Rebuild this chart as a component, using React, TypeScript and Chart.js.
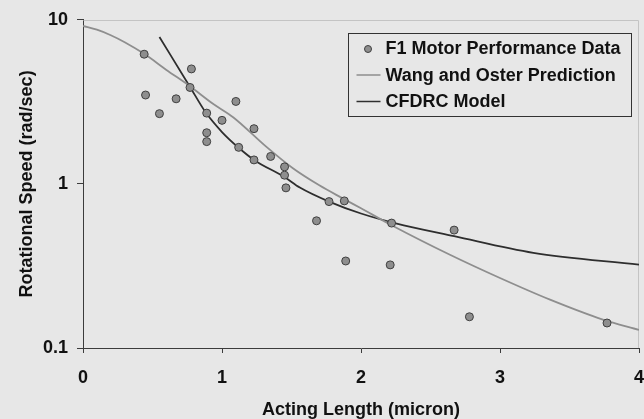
import React, { useEffect, useRef } from "react";
import { Chart, registerables } from "chart.js";

Chart.register(...registerables);

// ---- Data ----
const dataLabel = "F1 Motor Performance Data";
const wangLabel = "Wang and Oster Prediction";
const cfdLabel = "CFDRC Model";

const ptsX = [0.44, 0.45, 0.55, 0.67, 0.78, 0.77, 0.89, 0.89, 0.89, 1.0, 1.1, 1.12, 1.23, 1.23, 1.35, 1.45, 1.45, 1.46, 1.68, 1.77, 1.88, 1.89, 2.21, 2.22, 2.67, 2.78, 3.77];
const ptsY = [6.17, 3.48, 2.68, 3.3, 5.02, 3.87, 2.7, 2.05, 1.81, 2.44, 3.18, 1.67, 2.17, 1.4, 1.47, 1.27, 1.13, 0.946, 0.596, 0.78, 0.788, 0.339, 0.321, 0.577, 0.523, 0.155, 0.142];

const wangX = [0, 0.1, 0.2, 0.3, 0.44, 0.6, 0.767, 0.935, 1.08, 1.32, 1.51, 1.7, 1.87, 2.0, 2.22, 2.64, 3.0, 3.36, 3.74, 4.0];
const wangY = [9.17, 8.7, 8.05, 7.3, 6.2, 4.95, 3.95, 3.08, 2.55, 1.68, 1.245, 0.98, 0.815, 0.71, 0.56, 0.37, 0.267, 0.197, 0.149, 0.129];

const cfdX = [0.55, 0.77, 0.885, 1.0, 1.12, 1.23, 1.45, 1.56, 1.77, 2.0, 2.25, 2.67, 3.24, 4.0];
const cfdY = [7.86, 3.9, 2.71, 2.07, 1.66, 1.4, 1.1, 0.95, 0.78, 0.66, 0.575, 0.48, 0.38, 0.322];

const xTickStep = 1;
const yTickValues = [0.1, 1, 10];
const yTickLabels = ["0.1", "1", "10"];

const FONT = "'Liberation Sans', Arial, Helvetica, sans-serif";
const BG = "#e7e7e7";
const PT_FILL = "#8e8e8e";
const PT_BORDER = "#404040";
const WANG_COLOR = "#8e8e8e";
const CFD_COLOR = "#2e2e2e";
const AXIS_COLOR = "#3c3c3c";

const toPts = (xs: number[], ys: number[]) => xs.map((x, i) => ({ x, y: ys[i] }));

const bgPlugin = {
  id: "bgPlugin",
  beforeDraw(chart: any) {
    const { ctx, width, height } = chart;
    ctx.save();
    ctx.fillStyle = BG;
    ctx.fillRect(0, 0, width, height);
    ctx.restore();
  },
  beforeDatasetsDraw(chart: any) {
    const { ctx, chartArea } = chart;
    ctx.save();
    ctx.strokeStyle = "#c4c4c4";
    ctx.lineWidth = 1;
    ctx.beginPath();
    ctx.moveTo(Math.round(chartArea.left) + 0.5, Math.round(chartArea.top) + 0.5);
    ctx.lineTo(Math.round(chartArea.right) - 0.5, Math.round(chartArea.top) + 0.5);
    ctx.lineTo(Math.round(chartArea.right) - 0.5, Math.round(chartArea.bottom));
    ctx.stroke();
    ctx.restore();
  },
};

const legendPlugin = {
  id: "boxLegend",
  afterDraw(chart: any) {
    const { ctx, chartArea } = chart;
    const ds = chart.data.datasets;
    const boxR = Math.round(chartArea.right) - 7.5;
    const boxL = boxR - 283;
    const boxT = Math.round(chartArea.top) + 13.5;
    const boxB = boxT + 83;
    ctx.save();
    ctx.strokeStyle = "#333";
    ctx.lineWidth = 1;
    ctx.strokeRect(boxL, boxT, boxR - boxL, boxB - boxT);
    ctx.font = `bold 18px ${FONT}`;
    ctx.fillStyle = "#111";
    ctx.textBaseline = "middle";
    ctx.textAlign = "left";
    const textX = boxL + 37;
    const rows = [boxT + 15.5, boxT + 42.5, boxT + 69];
    ctx.beginPath();
    ctx.arc(boxL + 19.5, rows[0], 3.5, 0, Math.PI * 2);
    ctx.fillStyle = PT_FILL;
    ctx.fill();
    ctx.strokeStyle = PT_BORDER;
    ctx.lineWidth = 1;
    ctx.stroke();
    ctx.fillStyle = "#111";
    ctx.fillText(ds[0].label, textX, rows[0]);
    for (let i = 1; i < 3; i++) {
      ctx.beginPath();
      ctx.strokeStyle = ds[i].borderColor;
      ctx.lineWidth = 1.5;
      ctx.moveTo(boxL + 8, rows[i] - 1);
      ctx.lineTo(boxL + 32, rows[i] - 1);
      ctx.stroke();
      ctx.fillStyle = "#111";
      ctx.fillText(ds[i].label, textX, rows[i]);
    }
    ctx.restore();
  },
};

export default function App() {
  const canvasRef = useRef<HTMLCanvasElement | null>(null);

  useEffect(() => {
    document.body.style.margin = "0";
    const canvas = canvasRef.current;
    if (!canvas) return;
    const tickFont = { family: FONT, size: 18, weight: "bold" as const };
    const chart = new Chart(canvas, {
      type: "scatter",
      data: {
        datasets: [
          {
            label: dataLabel,
            data: toPts(ptsX, ptsY),
            backgroundColor: PT_FILL,
            borderColor: PT_BORDER,
            borderWidth: 1,
            pointRadius: 4,
            showLine: false,
          },
          {
            label: wangLabel,
            data: toPts(wangX, wangY),
            borderColor: WANG_COLOR,
            backgroundColor: WANG_COLOR,
            borderWidth: 1.8,
            pointRadius: 0,
            showLine: true,
            cubicInterpolationMode: "monotone",
          },
          {
            label: cfdLabel,
            data: toPts(cfdX, cfdY),
            borderColor: CFD_COLOR,
            backgroundColor: CFD_COLOR,
            borderWidth: 1.8,
            pointRadius: 0,
            showLine: true,
            cubicInterpolationMode: "monotone",
          },
        ],
      },
      options: {
        responsive: true,
        maintainAspectRatio: false,
        animation: false,
        layout: { padding: { left: 0, right: 5, top: 19, bottom: 0 } },
        plugins: {
          legend: { display: false },
          tooltip: { enabled: false },
          title: { display: false },
        },
        scales: {
          x: {
            type: "linear",
            min: 0,
            max: 4,
            ticks: {
              stepSize: xTickStep,
              color: "#111",
              font: tickFont,
              padding: 14,
              maxRotation: 0,
            },
            grid: {
              display: true,
              drawOnChartArea: false,
              drawTicks: true,
              tickLength: 5,
              color: AXIS_COLOR,
              tickColor: AXIS_COLOR,
            },
            border: { display: true, color: AXIS_COLOR, width: 1 },
            title: {
              display: true,
              text: "Acting Length (micron)",
              color: "#111",
              font: { ...tickFont, lineHeight: 1 },
              padding: { top: 0, bottom: 0 },
            },
            afterFit: (s: any) => {
              s.height = 71;
              s.paddingLeft = 0;
              s.paddingRight = 5;
            },
          },
          y: {
            type: "logarithmic",
            min: 0.1,
            max: 10,
            afterBuildTicks: (s: any) => {
              s.ticks = yTickValues.map((v) => ({ value: v }));
            },
            ticks: {
              color: "#111",
              font: tickFont,
              padding: 9,
              callback: (v: any) => {
                const i = yTickValues.findIndex((t) => Math.abs(t - Number(v)) < 1e-9);
                return i >= 0 ? yTickLabels[i] : "";
              },
            },
            grid: {
              display: true,
              drawOnChartArea: false,
              drawTicks: true,
              tickLength: 6,
              color: AXIS_COLOR,
              tickColor: AXIS_COLOR,
            },
            border: { display: true, color: AXIS_COLOR, width: 1 },
            title: {
              display: true,
              text: "Rotational Speed (rad/sec)",
              color: "#111",
              font: tickFont,
              padding: { top: 16, bottom: 0 },
            },
            afterFit: (s: any) => {
              s.width = 83;
            },
          },
        },
      },
      plugins: [bgPlugin, legendPlugin],
    } as any);
    return () => chart.destroy();
  }, []);

  return (
    <div style={{ position: "fixed", left: 0, top: 0, width: 644, height: 419 }}>
      <canvas ref={canvasRef} />
    </div>
  );
}
